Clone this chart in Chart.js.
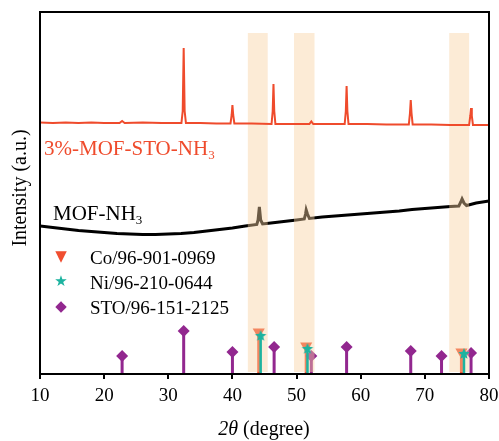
<!DOCTYPE html>
<html lang="en">
<head>
  <meta charset="UTF-8" />
  <title>XRD patterns</title>
  <script src="https://cdn.jsdelivr.net/npm/chart.js"></script>
  <style>
    body { margin: 0; background: #fff; }
    .wrap {
      position: relative;
      width: 499px;
      height: 441px;
      font-family: 'Liberation Serif', 'Times New Roman', serif;
      color: #000;
    }
    canvas { position: absolute; left: 0; top: 0; }
    .lbl { position: absolute; white-space: nowrap; line-height: 1; }
    .lbl sub { font-size: 0.62em; vertical-align: -0.3em; line-height: 0; }
    .mk { position: absolute; width: 20px; text-align: center; line-height: 1; font-family: 'DejaVu Sans', sans-serif; }
  </style>
</head>
<body>
  <div class="wrap">
    <canvas id="xrdChart" width="499" height="441"></canvas>

    <div class="lbl" style="left:44px; top:138px; font-size:21px; color:#ef4b2c;">3%-MOF-STO-NH<sub>3</sub></div>
    <div class="lbl" style="left:53px; top:203px; font-size:21px;">MOF-NH<sub>3</sub></div>

    <div class="mk" style="left:51px; top:249px; font-size:15px; color:#f04e30;">▼</div>
    <div class="lbl" style="left:90px; top:248px; font-size:19px;">Co/96-901-0969</div>
    <div class="mk" style="left:51px; top:274px; font-size:15px; color:#1db3a0;">★</div>
    <div class="lbl" style="left:90px; top:273px; font-size:19px;">Ni/96-210-0644</div>
    <div class="mk" style="left:51px; top:299px; font-size:15px; color:#92278f;">◆</div>
    <div class="lbl" style="left:90px; top:298px; font-size:19px;">STO/96-151-2125</div>

    <div class="lbl" style="left:19px; top:188px; font-size:20px; transform: translate(-50%, -50%) rotate(-90deg);">Intensity (a.u.)</div>
    <div class="lbl" style="left:264px; top:428px; font-size:20px; transform: translate(-50%, -50%);"><i>2θ</i> (degree)</div>
  </div>

  <script>
    // XRD traces: [2theta, intensity (a.u.)]
    const mofStoPattern = [
      [10, 251.5], [12, 251], [14, 251.5], [16, 251], [18, 251.5], [20, 251],
      [22.4, 251], [22.8, 253], [23.2, 251], [26, 251.5], [29, 251],
      [32.05, 251], [32.25, 263], [32.4, 326], [32.55, 263], [32.75, 251],
      [35, 251], [37.5, 250.5], [39.7, 250.5], [39.88, 259], [40.0, 269], [40.12, 259], [40.3, 250.5],
      [43, 250.5], [46.1, 250], [46.28, 263], [46.4, 290], [46.52, 263], [46.7, 250],
      [49, 250], [52.0, 250], [52.3, 252.5], [52.6, 250], [55, 250],
      [57.5, 250], [57.68, 263], [57.8, 288], [57.92, 263], [58.1, 250],
      [61, 250], [64, 249.5], [67.5, 249.5], [67.68, 261], [67.8, 274], [67.92, 261], [68.1, 249.5],
      [71, 249.5], [74, 249], [76.9, 249], [77.08, 258], [77.2, 266], [77.32, 258], [77.5, 249], [80, 249]
    ];

    const mofPattern = [
      [10, 148], [12, 146.5], [14, 145], [16, 143.5], [18, 142.5], [20, 141.5], [22, 140.5],
      [24, 140], [26, 139.5], [28, 139.5], [30, 140], [32, 140.5], [34, 141.5], [36, 143],
      [38, 144.5], [40, 146], [42, 148], [43.8, 149.5], [44.0, 154], [44.2, 167], [44.4, 154],
      [44.7, 150], [46, 151], [48, 152.5], [50, 154], [51.2, 155], [51.4, 160], [51.5, 164],
      [51.7, 160], [52, 155.5], [54, 157], [56, 158], [58, 159], [60, 160], [62, 161], [64, 162],
      [66, 163], [68, 164.5], [70, 165.5], [72, 166.5], [74, 167.5], [75.3, 168], [75.6, 172],
      [75.8, 175], [76.1, 171], [76.5, 168.5], [78, 171], [80, 173]
    ];

    // reference cards (stick positions and heights)
    const coPos = [44.1, 51.5, 75.7];
    const coInt = [42, 28, 22];
    const niPos = [44.4, 51.7, 76.1];
    const niInt = [38, 25, 20];
    const stoPos = [22.8, 32.4, 40.0, 46.5, 52.3, 57.8, 67.8, 72.6, 77.2];
    const stoInt = [18, 43, 22, 27, 18, 27, 23, 18, 21];

    // highlighted 2theta windows
    const bandRanges = [[42.4, 45.5], [49.6, 52.8], [73.8, 76.9]];
    const bandSpan = [2, 341];

    const xTicks = [10, 20, 30, 40, 50, 60, 70, 80];

    const FONT = "'Liberation Serif', 'Times New Roman', serif";

    function toPoints(pairs) {
      return pairs.map(p => ({ x: p[0], y: p[1] }));
    }

    function stems(pos, ints) {
      const out = [];
      pos.forEach((x, i) => {
        out.push({ x: x, y: 0 }, { x: x, y: ints[i] }, { x: x, y: null });
      });
      return out;
    }

    function starImage(color, r) {
      const c = document.createElement('canvas');
      c.width = c.height = 2 * r + 2;
      const g = c.getContext('2d');
      g.fillStyle = color;
      g.beginPath();
      for (let i = 0; i < 10; i++) {
        const rad = i % 2 ? r * 0.45 : r;
        const a = -Math.PI / 2 + i * Math.PI / 5;
        g.lineTo(r + 1 + rad * Math.cos(a), r + 1 + rad * Math.sin(a));
      }
      g.closePath();
      g.fill();
      return c;
    }

    const topOnly = r => ctx => (ctx.raw && ctx.raw.y > 0 ? r : 0);

    // shaded windows go over the black trace and the Co/STO cards
    const bandsPlugin = {
      id: 'bands',
      beforeDatasetDraw(chart, args) {
        if (args.index !== 1) return;
        const { ctx, scales: { x, y } } = chart;
        ctx.save();
        ctx.fillStyle = 'rgba(249, 209, 160, 0.43)';
        bandRanges.forEach(b => {
          const x0 = x.getPixelForValue(b[0]);
          const x1 = x.getPixelForValue(b[1]);
          const y0 = y.getPixelForValue(bandSpan[1]);
          const y1 = y.getPixelForValue(bandSpan[0]);
          ctx.fillRect(x0, y0, x1 - x0, y1 - y0);
        });
        ctx.restore();
      }
    };

    const framePlugin = {
      id: 'frame',
      afterDraw(chart) {
        const { ctx, chartArea: a } = chart;
        ctx.save();
        ctx.strokeStyle = '#000';
        ctx.lineWidth = 2;
        ctx.strokeRect(a.left, a.top, a.right - a.left, a.bottom - a.top);
        ctx.restore();
      }
    };

    new Chart(document.getElementById('xrdChart'), {
      type: 'line',
      data: {
        datasets: [
          {
            label: 'MOF-NH3',
            data: toPoints(mofPattern),
            borderColor: '#000',
            borderWidth: 3,
            pointRadius: 0,
            order: 5
          },
          {
            label: '3%-MOF-STO-NH3',
            data: toPoints(mofStoPattern),
            borderColor: '#ef4b2c',
            borderWidth: 2,
            pointRadius: 0,
            order: 1
          },
          {
            label: 'Co/96-901-0969',
            data: stems(coPos, coInt),
            borderColor: '#f04e30',
            borderWidth: 3,
            pointStyle: 'triangle',
            rotation: 180,
            pointRadius: topOnly(7),
            pointBackgroundColor: '#f04e30',
            pointBorderWidth: 0,
            spanGaps: false,
            order: 4
          },
          {
            label: 'STO/96-151-2125',
            data: stems(stoPos, stoInt),
            borderColor: '#92278f',
            borderWidth: 3,
            pointStyle: 'rectRot',
            pointRadius: topOnly(6),
            pointBackgroundColor: '#92278f',
            pointBorderWidth: 0,
            spanGaps: false,
            order: 3
          },
          {
            label: 'Ni/96-210-0644',
            data: stems(niPos, niInt),
            borderColor: '#1db3a0',
            borderWidth: 2.5,
            pointStyle: starImage('#1db3a0', 6),
            pointRadius: topOnly(6),
            pointBorderWidth: 0,
            spanGaps: false,
            order: 0
          }
        ]
      },
      options: {
        responsive: false,
        animation: false,
        layout: { padding: { top: 12, right: 10, left: 0, bottom: 0 } },
        plugins: {
          legend: { display: false },
          tooltip: { enabled: false }
        },
        scales: {
          x: {
            type: 'linear',
            min: 10,
            max: 80,
            afterBuildTicks: s => { s.ticks = xTicks.map(v => ({ value: v })); },
            ticks: { color: '#000', font: { family: FONT, size: 19 }, padding: 6, maxRotation: 0 },
            grid: { drawOnChartArea: false, tickLength: 5, color: '#000', lineWidth: 2 },
            border: { display: false },
            afterFit: s => { s.height = 67; s.paddingLeft = 0; s.paddingRight = 0; }
          },
          y: {
            min: 0,
            max: 362,
            ticks: { display: false },
            grid: { display: false },
            border: { display: false },
            afterFit: s => { s.width = 40; s.paddingTop = 0; s.paddingBottom = 0; }
          }
        }
      },
      plugins: [bandsPlugin, framePlugin]
    });
  </script>
</body>
</html>
